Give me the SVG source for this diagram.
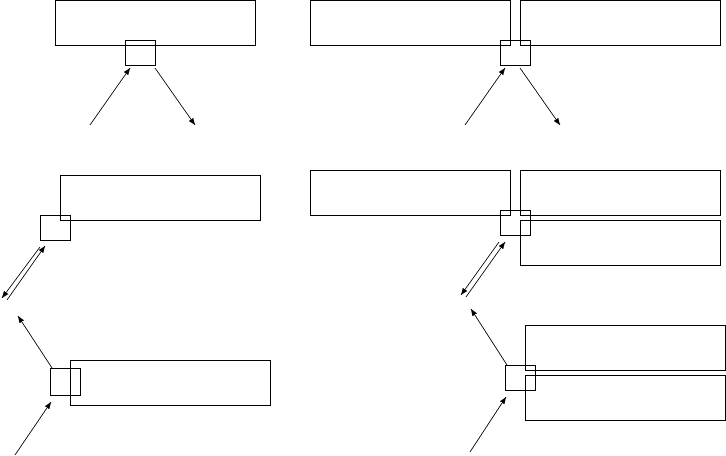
<svg xmlns="http://www.w3.org/2000/svg" width="726" height="456" viewBox="0 0 726 456">
<defs><marker id="a" viewBox="0 0 10 10" refX="10" refY="5" markerWidth="7" markerHeight="7" orient="auto"><path d="M0,1 L10,5 L0,9 z" fill="#000"/></marker></defs>
<style>rect{fill:none;stroke:#000;stroke-width:1}line{stroke:#000;stroke-width:1;marker-end:url(#a)}</style>
<g id="n1"><rect x="55.5" y="0.5" width="200" height="45"/></g>
<g id="n2"><rect x="125.5" y="40.5" width="30" height="25"/></g>
<g id="n3"><rect x="310.5" y="0.5" width="200" height="45"/></g>
<g id="n4"><rect x="520.5" y="0.5" width="200" height="45"/></g>
<g id="n5"><rect x="500.5" y="40.5" width="30" height="25"/></g>
<g id="n6"><rect x="60.5" y="175.5" width="200" height="45"/></g>
<g id="n7"><rect x="40.5" y="215.5" width="30" height="25"/></g>
<g id="n8"><rect x="310.5" y="170.5" width="200" height="45"/></g>
<g id="n9"><rect x="520.5" y="170.5" width="200" height="45"/></g>
<g id="n10"><rect x="520.5" y="220.5" width="200" height="45"/></g>
<g id="n11"><rect x="500.5" y="210.5" width="30" height="25"/></g>
<g id="n12"><rect x="70.5" y="360.5" width="200" height="45"/></g>
<g id="n13"><rect x="50.5" y="368.5" width="30" height="27"/></g>
<g id="n14"><rect x="525.5" y="325.5" width="200" height="45"/></g>
<g id="n15"><rect x="525.5" y="375.5" width="200" height="45"/></g>
<g id="n16"><rect x="505.5" y="365.5" width="30" height="25"/></g>
<g id="connectors">
<line x1="90" y1="125" x2="130" y2="68"/>
<line x1="155" y1="68" x2="195" y2="125"/>
<line x1="465" y1="125" x2="505" y2="68"/>
<line x1="520" y1="68" x2="560" y2="125"/>
<line x1="40" y1="247" x2="2" y2="298"/>
<line x1="7" y1="300" x2="45" y2="246"/>
<line x1="499" y1="242" x2="461" y2="295"/>
<line x1="466" y1="297" x2="505" y2="242"/>
<line x1="52" y1="368" x2="18" y2="316"/>
<line x1="15" y1="455" x2="51" y2="402"/>
<line x1="507" y1="365" x2="471" y2="309"/>
<line x1="470" y1="452" x2="506" y2="397"/>
</g>
</svg>
